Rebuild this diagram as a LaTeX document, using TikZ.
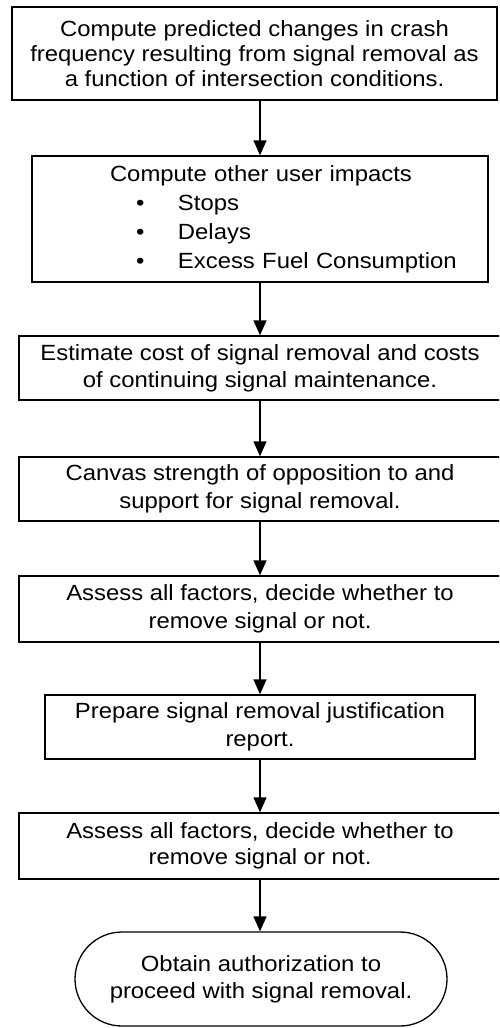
\documentclass[tikz,border=0pt]{standalone}
\usepackage{fontspec}
\setmainfont{Liberation Sans}[FakeStretch=1.085]
\usetikzlibrary{arrows.meta,shapes.misc}
\begin{document}
\begin{tikzpicture}[x=1pt,y=-1pt,
  box/.style={draw=black, line width=1.4pt, rectangle, inner sep=0pt, align=center,
    font=\fontsize{22}{28}\selectfont},
  term/.style={draw=black, line width=1.3pt, rounded rectangle, inner sep=0pt, align=center,
    font=\fontsize{22}{27}\selectfont},
  arr/.style={draw=black, line width=1.4pt, -{Triangle[width=13pt,length=15pt]}},
]
\useasboundingbox (0,0) rectangle (499,1028);
\fill[white] (0,0) rectangle (499,1028);
\clip (0,0) rectangle (499,1028);

\node[box, line width=2.2pt, minimum width=485pt, minimum height=93pt,
  font=\fontsize{22}{25}\selectfont] (b1) at (254.5,53.5)
  {Compute predicted changes in crash\\frequency resulting from signal removal as\\a function of intersection conditions.};

\node[box, minimum width=456pt, minimum height=126pt, align=left, text width=456pt,
  font=\fontsize{22}{29}\selectfont] (b2) at (260,219)
  {\hspace*{78pt}Compute other user impacts\\
   \hspace*{104pt}\makebox[42pt][l]{\textbullet}Stops\\
   \hspace*{104pt}\makebox[42pt][l]{\textbullet}Delays\\
   \hspace*{104pt}\makebox[42pt][l]{\textbullet}Excess Fuel Consumption};

\node[box, minimum width=482pt, minimum height=64pt, font=\fontsize{22}{27}\selectfont] (b3) at (260,368)
  {Estimate cost of signal removal and costs\\of continuing signal maintenance.};

\node[box, minimum width=482pt, minimum height=64pt] (b4) at (260,489)
  {Canvas strength of opposition to and\\support for signal removal.};

\node[box, minimum width=482pt, minimum height=66pt] (b5) at (260,609)
  {Assess all factors, decide whether to\\remove signal or not.};

\node[box, minimum width=430pt, minimum height=64pt] (b6) at (260,727)
  {Prepare signal removal justification\\report.};

\node[box, minimum width=482pt, minimum height=66pt, font=\fontsize{22}{26}\selectfont] (b7) at (260,846)
  {Assess all factors, decide whether to\\remove signal or not.};

\node[term, minimum width=372pt, minimum height=94pt] (t) at (261,979)
  {Obtain authorization to\\proceed with signal removal.};

\draw[arr] (b1.south -| b2.north) -- (b2.north);
\draw[arr] (b2.south) -- (b2.south |- b3.north);
\draw[arr] (b3.south) -- (b3.south |- b4.north);
\draw[arr] (b4.south) -- (b4.south |- b5.north);
\draw[arr] (b5.south) -- (b5.south |- b6.north);
\draw[arr] (b6.south) -- (b6.south |- b7.north);
\draw[arr] (b7.south) -- (b7.south |- t.north);
\end{tikzpicture}
\end{document}
